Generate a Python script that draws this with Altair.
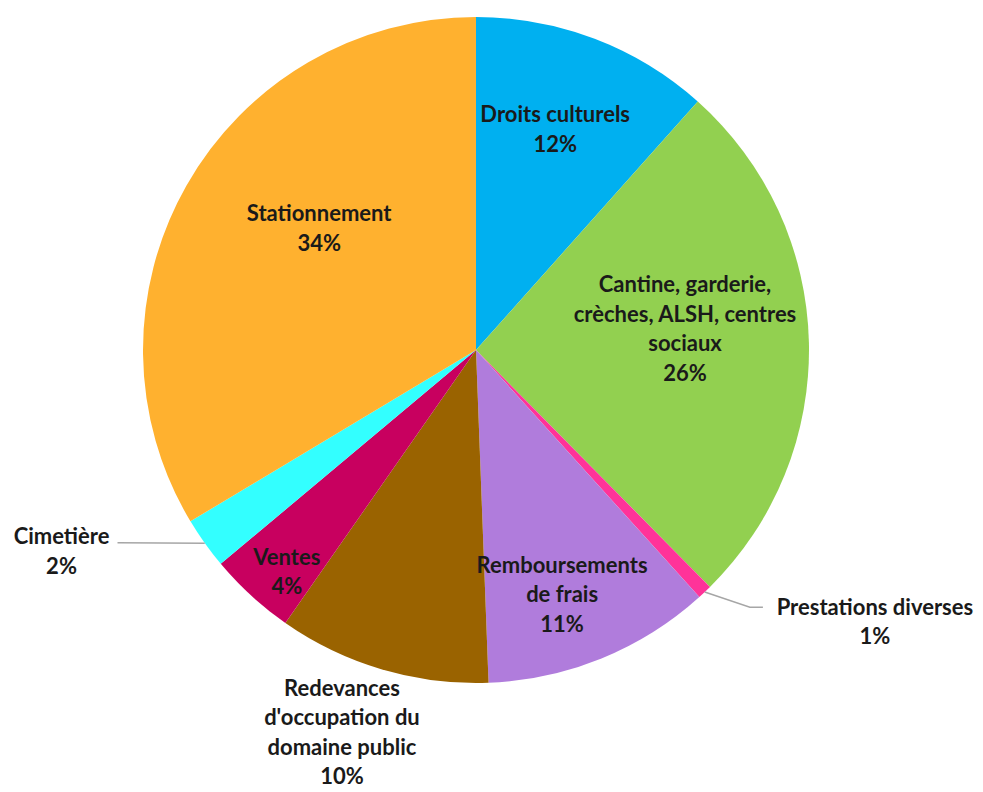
import math
import altair as alt
import pandas as pd

# ---- data ----
categories = ["Droits culturels", "Cantine", "Prestations diverses", "Remboursements de frais",
              "Redevances", "Ventes", "Cimetière", "Stationnement"]
values = [11.6, 26.0, 0.7, 11.1, 10.3, 4.2, 2.5, 33.6]
pct_labels = ["12%", "26%", "1%", "11%", "10%", "4%", "2%", "34%"]
label_names = ["Droits culturels",
               "Cantine, garderie,\ncrèches, ALSH, centres\nsociaux",
               "Prestations diverses",
               "Remboursements\nde frais",
               "Redevances\nd'occupation du\ndomaine public",
               "Ventes",
               "Cimetière",
               "Stationnement"]
colors = ["#00B0F0", "#92D050", "#FF3399", "#B07CDC", "#9A6300", "#C8005F", "#33FFFF", "#FFB12F"]

# ---- layout ----
CX, CY, R = 476, 350, 333
LH = 29.5
label_nudge = [-1.1, -4.1, -12.3, 2.8, 2.9, -2.1, 9.5, 8.1]   # degrees
label_r = [234, 210, 483, 260, 406, 292, 461, 198]
# leader lines: category -> list of (dx, dy) offsets relative to label centre
leaders = {"Cimetière": [(56, -9)], "Prestations diverses": [(-125, -15), (-112, -15)]}
FONT = "Lato"

total = sum(values)
df = pd.DataFrame({"cat": categories, "value": values, "order": list(range(len(categories)))})

rows, lead_rows = [], []
cum = 0.0
for i, (c, v) in enumerate(zip(categories, values)):
    mid = (cum + v / 2) / total * 360.0
    cum += v
    a = math.radians(mid + label_nudge[i])
    lx = CX + label_r[i] * math.sin(a)
    ly = CY - label_r[i] * math.cos(a)
    txt = label_names[i] + "\n" + pct_labels[i]
    n = txt.count("\n") + 1
    rows.append({"cat": c, "x": lx, "y": ly - (n - 1) * LH / 2, "text": txt})
    if c in leaders:
        am = math.radians(mid)
        pts = [(CX + R * math.sin(am), CY - R * math.cos(am))]
        pts += [(lx + dx, ly + dy) for dx, dy in leaders[c]]
        for k, (px, py) in enumerate(pts):
            lead_rows.append({"cat": c, "k": k, "x": px, "y": py})

labels_df = pd.DataFrame(rows)
lead_df = pd.DataFrame(lead_rows)

pie = alt.Chart(df).mark_arc(outerRadius=R).encode(
    theta=alt.Theta("value:Q", stack=True),
    order=alt.Order("order:Q"),
    color=alt.Color("cat:N", scale=alt.Scale(domain=categories, range=colors), legend=None),
    x=alt.value(CX), y=alt.value(CY),
)

lines = alt.Chart(lead_df).mark_line(color="#A6A6A6", strokeWidth=1.5).encode(
    x=alt.X("x:Q", scale=None), y=alt.Y("y:Q", scale=None),
    detail="cat:N", order="k:Q",
)

text = alt.Chart(labels_df).mark_text(
    font=FONT, fontWeight="bold", fontSize=22, lineBreak="\n", lineHeight=LH,
    align="center", baseline="middle", color="#1A1A1A",
).encode(x=alt.X("x:Q", scale=None), y=alt.Y("y:Q", scale=None), text="text:N")

chart = alt.layer(pie, lines, text).properties(
    width=983, height=792, autosize=alt.AutoSizeParams(type="none"), padding=0,
    background="white",
).configure_view(stroke=None)

chart.save("out.html", embed_options={"renderer": "svg", "actions": False})
